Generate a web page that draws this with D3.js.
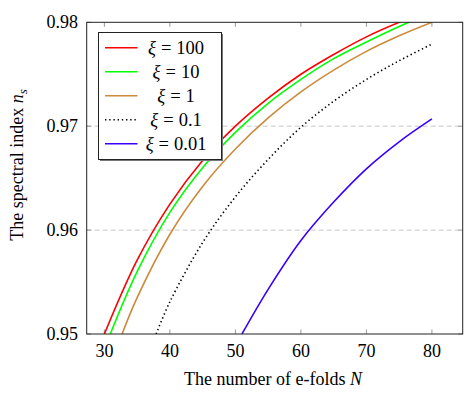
<!DOCTYPE html>
<meta charset="utf-8">
<style>
body { margin: 0; background: #fff; }
text { font-family: "Liberation Serif", "DejaVu Serif", serif; fill: #000; }
</style>
<body>
<script src="https://d3js.org/d3.v7.min.js"></script>
<script>

var width = 475,
    height = 393;

// data: [N, n_s]
var xi100 = [[30, 0.950], [35, 0.9571], [40, 0.9625], [45, 0.9667], [50, 0.970], [55, 0.9727],
             [60, 0.975], [65, 0.9769], [70, 0.9786], [75, 0.980], [80, 0.9812]];
var xi10 = [[30.9, 0.950], [35, 0.9560], [40, 0.9617], [45, 0.9660], [50, 0.9694], [55, 0.9722],
            [60, 0.9745], [65, 0.9765], [70, 0.9781], [75, 0.9796], [80, 0.9809]];
var xi1 = [[32.7, 0.950], [35, 0.9535], [40, 0.9596], [45, 0.9642], [50, 0.9678], [55, 0.9708],
           [60, 0.9733], [65, 0.9754], [70, 0.9772], [75, 0.9787], [80, 0.980]];
var xi01 = [[37.9, 0.950], [40, 0.9531], [45, 0.9588], [50, 0.9632], [55, 0.9668], [60, 0.9699],
            [65, 0.9724], [70, 0.9745], [75, 0.9763], [80, 0.9779]];
var xi001 = [[51, 0.950], [55, 0.9543], [60, 0.9590], [65, 0.9627], [70, 0.9659], [75, 0.9685],
             [80, 0.9707]];

var seriesNames = ["100", "10", "1", "0.1", "0.01"];
var seriesData = [xi100, xi10, xi1, xi01, xi001];
var seriesColors = ["#ff0000", "#00ff00", "#cc8a3c", "#000000", "#3a00ff"];

var xTicks = [30, 40, 50, 60, 70, 80];
var yTicks = [0.95, 0.96, 0.97, 0.98];
var yGrid = [0.96, 0.97];

var pL = 86.7, pR = 462.7, pT = 22.3, pB = 334;

var x = d3.scaleLinear().domain([27.3, 84.7]).range([pL, pR]);
var y = d3.scaleLinear().domain([0.95, 0.98]).range([pB, pT]);

var svg = d3.select("body").append("svg")
    .attr("width", width)
    .attr("height", height);

svg.append("clipPath").attr("id", "clip")
  .append("rect")
    .attr("x", pL).attr("y", pT)
    .attr("width", pR - pL).attr("height", pB - pT);

// dashed grid
svg.selectAll(".grid")
    .data(yGrid)
  .enter().append("line")
    .attr("x1", pL).attr("x2", pR)
    .attr("y1", function(d) { return y(d); })
    .attr("y2", function(d) { return y(d); })
    .attr("stroke", "#c8c8c8")
    .attr("stroke-dasharray", "5,3");

// inward ticks
var tickLen = 4.5;
xTicks.forEach(function(t) {
  svg.append("line").attr("x1", x(t)).attr("x2", x(t)).attr("y1", pB).attr("y2", pB - tickLen)
    .attr("stroke", "#999");
  svg.append("line").attr("x1", x(t)).attr("x2", x(t)).attr("y1", pT).attr("y2", pT + tickLen)
    .attr("stroke", "#999");
});
yTicks.forEach(function(t) {
  svg.append("line").attr("x1", pL).attr("x2", pL + tickLen).attr("y1", y(t)).attr("y2", y(t))
    .attr("stroke", "#999");
  svg.append("line").attr("x1", pR).attr("x2", pR - tickLen).attr("y1", y(t)).attr("y2", y(t))
    .attr("stroke", "#999");
});

// curves
var line = d3.line()
    .x(function(d) { return x(d[0]); })
    .y(function(d) { return y(d[1]); })
    .curve(d3.curveCatmullRom.alpha(0.5));

var curves = svg.append("g").attr("clip-path", "url(#clip)");
seriesData.forEach(function(s, i) {
  curves.append("path")
      .datum(s)
      .attr("d", line)
      .attr("fill", "none")
      .attr("stroke", seriesColors[i])
      .attr("stroke-width", i == 3 ? 1.6 : 1.6)
      .attr("stroke-dasharray", i == 3 ? "1.4,2.8" : null);
});

// frame
svg.append("rect")
    .attr("x", pL).attr("y", pT)
    .attr("width", pR - pL).attr("height", pB - pT)
    .attr("fill", "none")
    .attr("stroke", "#222");

// tick labels
svg.selectAll(".xl")
    .data(xTicks)
  .enter().append("text")
    .attr("x", function(d) { return x(d); })
    .attr("y", 357)
    .attr("text-anchor", "middle")
    .attr("font-size", 18)
    .text(function(d) { return d; });

svg.selectAll(".yl")
    .data(yTicks)
  .enter().append("text")
    .attr("x", 78)
    .attr("y", function(d) { return y(d) + 6; })
    .attr("text-anchor", "end")
    .attr("font-size", 18)
    .text(function(d) { return d3.format(".2f")(d); });

// axis titles
var xl = svg.append("text")
    .attr("x", 273).attr("y", 385)
    .attr("text-anchor", "middle")
    .attr("font-size", 18);
xl.append("tspan").text("The number of e-folds ");
xl.append("tspan").attr("font-style", "italic").text("N");

var yl = svg.append("text")
    .attr("transform", "translate(23,165) rotate(-90)")
    .attr("text-anchor", "middle")
    .attr("font-size", 18);
yl.append("tspan").text("The spectral index ");
yl.append("tspan").attr("font-style", "italic").text("n");
yl.append("tspan").attr("font-style", "italic").attr("font-size", 13).attr("dy", 4).text("s");

// legend
var lg = svg.append("g");
lg.append("rect")
    .attr("x", 100).attr("y", 34)
    .attr("width", 123).attr("height", 127)
    .attr("fill", "#777");
lg.append("rect")
    .attr("x", 98.5).attr("y", 32.5)
    .attr("width", 123).attr("height", 127)
    .attr("fill", "#fff")
    .attr("stroke", "#222");

seriesNames.forEach(function(name, i) {
  var ry = 47.7 + i * 24;
  lg.append("line")
      .attr("x1", 105).attr("x2", 137.5)
      .attr("y1", ry).attr("y2", ry)
      .attr("stroke", seriesColors[i])
      .attr("stroke-width", 1.6)
      .attr("stroke-dasharray", i == 3 ? "1.4,2.8" : null);
  var t = lg.append("text")
      .attr("x", 176).attr("y", ry + 6)
      .attr("text-anchor", "middle")
      .attr("font-size", 18.5);
  t.append("tspan").attr("font-style", "italic").text("\u03BE");
  t.append("tspan").attr("dx", 5).text("=");
  t.append("tspan").attr("dx", 5).text(name);
});

</script>
</body>
